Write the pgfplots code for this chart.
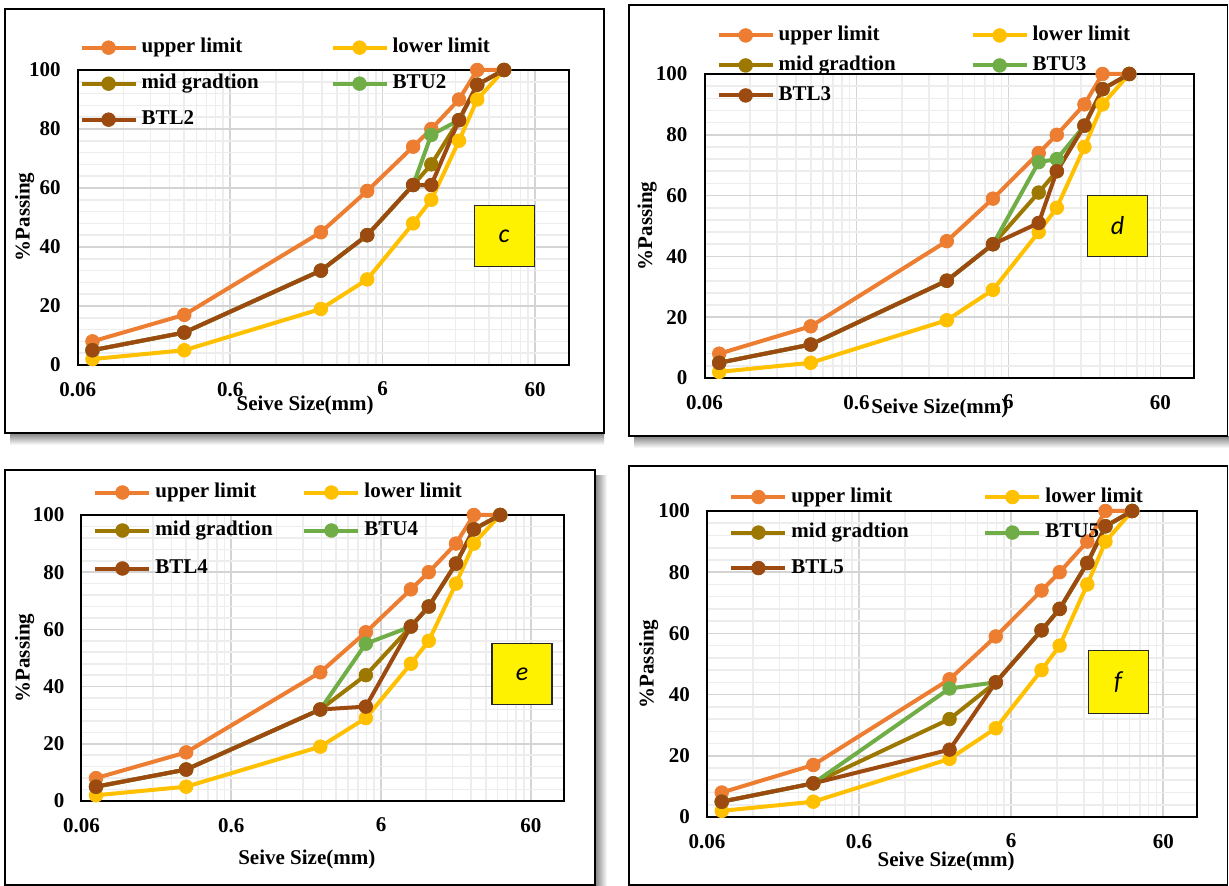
\documentclass[border=0pt]{standalone}
\usepackage{pgfplots}
\usepackage{pgfplotstable}
\pgfplotsset{compat=1.18}
\usepackage{fontspec}
\setmainfont{Liberation Serif}
\newfontfamily\carlito{Carlito}
\definecolor{cUp}{HTML}{ED7D31}
\definecolor{cLo}{HTML}{FFC000}
\definecolor{cMid}{HTML}{9C7800}
\definecolor{cBTU}{HTML}{70AD47}
\definecolor{cBTL}{HTML}{9C4A10}
\definecolor{gMaj}{HTML}{D4D4D4}
\definecolor{gMin}{HTML}{EDEDED}

\pgfplotstableread{
x     up  lo  mid btuA btlA btuB btlB btuC btlC btuD btlD
0.075 8   2   5   5    5    5    5    5    5    5    5
0.3   17  5   11  11   11   11   11   11   11   11   11
2.36  45  19  32  32   32   32   32   32   32   42   22
4.75  59  29  44  44   44   44   44   55   33   44   44
9.5   74  48  61  61   61   71   51   61   61   61   61
12.5  80  56  68  78   61   72   68   68   68   68   68
19    90  76  83  83   83   83   83   83   83   83   83
25    100 90  95  95   95   95   95   95   95   95   95
37.5  100 100 100 100  100  100  100  100  100  100  100
}\data

\newcommand\lfont{\bfseries\fontsize{10.5}{12}\selectfont}

\tikzset{lbox/.style={draw=black!85, line width=0.6pt, fill=yellow, minimum width=30pt, minimum height=30.5pt, inner sep=0pt, font=\carlito\itshape\fontsize{13}{15}\selectfont}}

\pgfplotsset{
  mypanel/.style={
    scale only axis,
    anchor=south west,
    xmin=0.06, xmax=100, ymin=0, ymax=100,
    xtick={0.06,0.6,6,60}, xticklabels={0.06,0.6,6,60},
    minor xtick={0.12,0.18,0.24,0.3,0.36,0.42,0.48,0.54,1.2,1.8,2.4,3,3.6,4.2,4.8,5.4,12,18,24,30,36,42,48,54},
    ytick={0,20,40,60,80,100}, yticklabels={0,20,40,60,80,100},
    minor y tick num=4,
    grid=both,
    major grid style={draw=gMaj, line width=0.8pt},
    minor grid style={draw=gMin, line width=0.8pt},
    axis line style={line width=1pt, black},
    tick style={draw=none},
    ticklabel style={font=\lfont},
    xticklabel style={yshift=-5pt},
    yticklabel style={xshift=-5pt},
    axis background/.style={fill=white},
    clip=false,
    legend columns=2,
    legend cell align=left,
    legend style={draw=none, fill=none, anchor=north west, inner sep=0pt,
      font=\lfont,
      nodes={inner sep=0pt, text height=7.5pt, text depth=2.5pt},
      /tikz/every odd column/.append style={column sep=2pt},
      /tikz/every even column/.append style={column sep=0pt}},
    legend image code/.code={\draw[mark repeat=2,mark phase=2,##1] plot coordinates {(0pt,0pt) (13.5pt,0pt) (27pt,0pt)};},
    every axis plot/.append style={line width=2pt, mark=*, mark size=3.4pt, mark options={line width=0.4pt}},
    xlabel={Seive Size(mm)},
    ylabel={\%Passing},
  },
}

\newcommand\panelplots[5]{%
  \addplot[cUp] table[x=x,y=up]{\data}; \addlegendentry{\makebox[#1][l]{upper limit}}
  \addplot[cLo] table[x=x,y=lo]{\data}; \addlegendentry{lower limit}
  \addplot[cMid] table[x=x,y=mid]{\data}; \addlegendentry{\makebox[#1][l]{mid gradtion}}
  \addplot[cBTU] table[x=x,y=#2]{\data}; \addlegendentry{#4}
  \addplot[cBTL] table[x=x,y=#3]{\data}; \addlegendentry{\makebox[#1][l]{#5}}
}

\begin{document}
\begin{tikzpicture}
\useasboundingbox[fill=white] (0pt,0pt) rectangle (614.5pt,443pt);
% shadows
\shade[top color=black!45, bottom color=white] (5pt,226pt) rectangle (302pt,220.5pt);
\shade[top color=black!45, bottom color=white] (317pt,224.5pt) rectangle (614.5pt,219pt);
\shade[left color=black!45, right color=white] (298pt,0pt) rectangle (303.5pt,205pt);
% frames
\draw[line width=0.85pt, fill=white] (2.5pt,438.5pt) rectangle (302pt,226.5pt);
\draw[line width=0.85pt, fill=white] (314.5pt,440.5pt) rectangle (613.8pt,225pt);
\draw[line width=0.85pt, fill=white] (2.5pt,208pt) rectangle (297.5pt,0.5pt);
\draw[line width=0.85pt, fill=white] (314.5pt,210pt) rectangle (613.8pt,0.5pt);

% panel c
\begin{semilogxaxis}[mypanel, at={(38.85pt,260.5pt)}, width=245.65pt, height=147.5pt,
  legend style={at={(0.003,1.111)}, row sep=8pt},
  every axis x label/.style={at={(axis description cs:0.463,-0.136)}, anchor=center, font=\lfont},
  every axis y label/.style={at={(axis description cs:-0.108,0.502)}, rotate=90, anchor=center, font=\lfont}]
\panelplots{94.5pt}{btuA}{btlA}{BTU2}{BTL2}
\node[lbox] at (axis description cs:0.868,0.436) {c};
\end{semilogxaxis}

% panel d
\begin{semilogxaxis}[mypanel, at={(352.25pt,254pt)}, width=244.75pt, height=152pt,
  legend style={at={(0.024,1.161)}, row sep=5pt},
  every axis x label/.style={at={(axis description cs:0.481,-0.099)}, anchor=center, font=\lfont},
  every axis y label/.style={at={(axis description cs:-0.117,0.5)}, rotate=90, anchor=center, font=\lfont}]
\panelplots{96pt}{btuB}{btlB}{BTU3}{BTL3}
\node[lbox] at (axis description cs:0.844,0.5) {d};
\end{semilogxaxis}

% panel e
\begin{semilogxaxis}[mypanel, at={(40.75pt,42.5pt)}, width=241.25pt, height=143pt,
  legend style={at={(0.024,1.115)}, row sep=9pt},
  every axis x label/.style={at={(axis description cs:0.467,-0.203)}, anchor=center, font=\lfont},
  every axis y label/.style={at={(axis description cs:-0.118,0.5)}, rotate=90, anchor=center, font=\lfont}]
\panelplots{73.5pt}{btuC}{btlC}{BTU4}{BTL4}
\node[lbox] at (axis description cs:0.913,0.444) {e};
\end{semilogxaxis}

% panel f
\begin{semilogxaxis}[mypanel, at={(353.5pt,34.5pt)}, width=245pt, height=153pt,
  legend style={at={(0.045,1.0795)}, row sep=7.75pt},
  every axis x label/.style={at={(axis description cs:0.488,-0.144)}, anchor=center, font=\lfont},
  every axis y label/.style={at={(axis description cs:-0.119,0.5)}, rotate=90, anchor=center, font=\lfont}]
\panelplots{96pt}{btuD}{btlD}{BTU5}{BTL5}
\node[lbox, minimum height=31.5pt] at (axis description cs:0.839,0.44) {f};
\end{semilogxaxis}
\end{tikzpicture}
\end{document}
